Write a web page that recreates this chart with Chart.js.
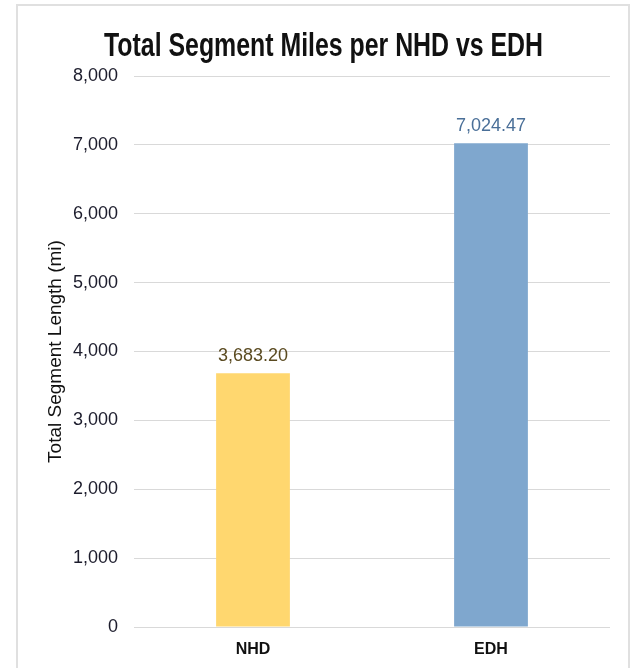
<!DOCTYPE html>
<html><head><meta charset="utf-8">
<script src="https://cdn.jsdelivr.net/npm/chart.js@4/dist/chart.umd.min.js"></script>
<style>
html,body{margin:0;padding:0;background:#fff;}
#wrap{position:relative;width:630px;height:668px;overflow:hidden;}
#frame{position:absolute;left:16px;top:4px;width:614px;height:700px;border:2px solid #e0e0e0;box-sizing:border-box;pointer-events:none;}
canvas{position:absolute;left:0;top:0;}
</style></head><body>
<div id="wrap"><canvas id="c" width="630" height="668" style="width:630px;height:668px"></canvas><div id="frame"></div></div>
<script>
const categories = ["NHD", "EDH"];
const totalMiles = [3683.20, 7024.47];
const yTicks = [0, 1000, 2000, 3000, 4000, 5000, 6000, 7000, 8000];
const chartTitle = "Total Segment Miles per NHD vs EDH";
const barColors = ["#FFD76F", "#7FA7CE"];
const labelColors = ["#5a4a20", "#4a6f98"];

const fmt2 = v => v.toLocaleString('en-US', {minimumFractionDigits: 2, maximumFractionDigits: 2});

const valueLabels = {
  id: 'valueLabels',
  afterDatasetsDraw(chart) {
    const ctx = chart.ctx;
    const meta = chart.getDatasetMeta(0);
    ctx.save();
    ctx.font = '18px "Liberation Sans", Arial, sans-serif';
    ctx.textAlign = 'center';
    ctx.textBaseline = 'middle';
    meta.data.forEach((bar, i) => {
      ctx.fillStyle = labelColors[i];
      ctx.fillText(fmt2(totalMiles[i]), bar.x, bar.y - 17);
    });
    ctx.restore();
  }
};

// condensed title (no condensed font installed: compress horizontally)
const condensedTitle = {
  id: 'condensedTitle',
  afterDraw(chart) {
    const ctx = chart.ctx;
    ctx.save();
    ctx.font = 'bold 33px "Liberation Sans", Arial, sans-serif';
    ctx.fillStyle = '#111111';
    ctx.textAlign = 'center';
    ctx.textBaseline = 'alphabetic';
    const w = ctx.measureText(chartTitle).width;
    const sx = 439 / w;
    ctx.translate(323.5, 56);
    ctx.scale(sx, 1);
    ctx.fillText(chartTitle, 0, 0);
    ctx.restore();
  }
};

new Chart(document.getElementById('c'), {
  type: 'bar',
  data: {
    labels: categories,
    datasets: [{
      data: totalMiles,
      backgroundColor: barColors,
      borderWidth: 0,
      categoryPercentage: 0.31,
      barPercentage: 1
    }]
  },
  options: {
    responsive: false,
    animation: false,
    devicePixelRatio: 1,
    layout: { padding: { left: 0, right: 20, top: 76, bottom: 0 } },
    plugins: {
      legend: { display: false },
      tooltip: { enabled: false },
      title: { display: false }
    },
    scales: {
      x: {
        grid: { display: false },
        border: { display: false },
        ticks: {
          color: '#111111',
          padding: 5,
          font: { family: '"Liberation Sans", Arial, sans-serif', size: 16, weight: 'bold' }
        },
        afterFit: s => { s.height = 41; }
      },
      y: {
        min: 0,
        max: 8000,
        afterBuildTicks: s => { s.ticks = yTicks.map(v => ({ value: v })); },
        grid: { color: '#d9d9d9', lineWidth: 1, drawTicks: false },
        border: { display: false },
        ticks: {
          color: '#1c1c2c',
          padding: 16,
          font: { family: '"Liberation Sans", Arial, sans-serif', size: 18 },
          callback: v => v.toLocaleString('en-US')
        },
        title: {
          display: true,
          text: 'Total Segment Length (mi)',
          color: '#111111',
          font: { family: '"Liberation Sans", Arial, sans-serif', size: 19 },
          padding: { top: 44, bottom: 0 }
        },
        afterFit: s => { s.width = 134; }
      }
    }
  },
  plugins: [valueLabels, condensedTitle]
});
</script>
</body></html>
